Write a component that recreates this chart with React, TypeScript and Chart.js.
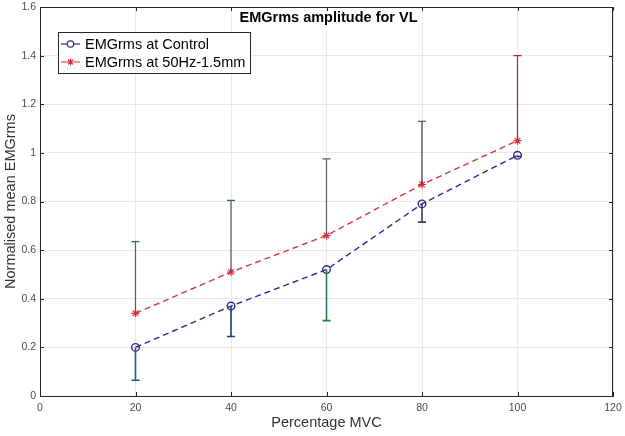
import React, { useEffect, useRef } from "react";
import { Chart, registerables } from "chart.js";

Chart.register(...registerables);

const mvc = [20, 40, 60, 80, 100];
const controlMean = [0.2, 0.37, 0.52, 0.79, 0.99];
const controlLower = [0.065, 0.245, 0.31, 0.715, 0.985];
const stimMean = [0.34, 0.51, 0.66, 0.87, 1.05];
const stimUpper = [0.635, 0.805, 0.975, 1.13, 1.4];
const controlBarColors = ["#1d5a7c", "#1f3a7a", "#2e7a4c", "#4a3a52", "#2a2a7a"];
const stimBarColors = ["#3c6a52", "#40604e", "#50665a", "#4a3838", "#a42626"];
const xTicks = [0, 20, 40, 60, 80, 100, 120];
const yTicks = [0, 0.2, 0.4, 0.6, 0.8, 1, 1.2, 1.4, 1.6];
const titleText = "EMGrms amplitude for VL";
const xTitle = "Percentage MVC";
const yTitle = "Normalised mean EMGrms";
const legendLabels = ["EMGrms at Control", "EMGrms at 50Hz-1.5mm"];

const BLUE = "#2b2b8c";
const RED = "#e0303c";
const FONT = "'Liberation Sans', Arial, sans-serif";

const overlay = {
  id: "overlay",
  afterDatasetsDraw(chart: any) {
    const { ctx, chartArea, scales } = chart;
    const xs = scales.x;
    const ys = scales.y;
    ctx.save();
    // error bars
    const drawBar = (x: number, y0: number, y1: number, color: string, w: number) => {
      const px = xs.getPixelForValue(x);
      const p0 = ys.getPixelForValue(y0);
      const p1 = ys.getPixelForValue(y1);
      ctx.strokeStyle = color;
      ctx.lineWidth = w;
      ctx.beginPath();
      ctx.moveTo(px, p0);
      ctx.lineTo(px, p1);
      ctx.moveTo(px - 4, p1);
      ctx.lineTo(px + 4, p1);
      ctx.stroke();
    };
    mvc.forEach((x, i) => {
      drawBar(x, controlMean[i], controlLower[i], controlBarColors[i], 1.6);
      drawBar(x, stimMean[i], stimUpper[i], stimBarColors[i], 1.2);
    });
    // box
    ctx.strokeStyle = "#262626";
    ctx.lineWidth = 1;
    ctx.strokeRect(chartArea.left + 0.5, chartArea.top + 0.5, chartArea.right - chartArea.left - 1, chartArea.bottom - chartArea.top);
    // inward ticks
    ctx.beginPath();
    xTicks.forEach((t) => {
      const px = Math.round(xs.getPixelForValue(t)) + 0.5;
      ctx.moveTo(px, chartArea.bottom);
      ctx.lineTo(px, chartArea.bottom - 4);
      ctx.moveTo(px, chartArea.top);
      ctx.lineTo(px, chartArea.top + 4);
    });
    yTicks.forEach((t) => {
      const py = Math.round(ys.getPixelForValue(t)) + 0.5;
      ctx.moveTo(chartArea.left, py);
      ctx.lineTo(chartArea.left + 4, py);
      ctx.moveTo(chartArea.right, py);
      ctx.lineTo(chartArea.right - 4, py);
    });
    ctx.stroke();
    // title
    ctx.fillStyle = "#000";
    ctx.font = `bold 14.5px ${FONT}`;
    ctx.textAlign = "center";
    ctx.textBaseline = "middle";
    ctx.fillText(titleText, (chartArea.left + chartArea.right) / 2 + 2, 18);
    // legend
    const lx = 58, ly = 32, lw = 192, lh = 41;
    ctx.fillStyle = "#fff";
    ctx.fillRect(lx, ly, lw, lh);
    ctx.strokeStyle = "#262626";
    ctx.lineWidth = 1;
    ctx.strokeRect(lx + 0.5, ly + 0.5, lw, lh);
    ctx.font = `14.5px ${FONT}`;
    ctx.textAlign = "left";
    ctx.fillStyle = "#000";
    const rows = [ly + 12, ly + 30];
    // row 1
    ctx.strokeStyle = BLUE;
    ctx.lineWidth = 1.2;
    ctx.beginPath();
    ctx.moveTo(lx + 3, rows[0]);
    ctx.lineTo(lx + 22, rows[0]);
    ctx.stroke();
    ctx.fillStyle = "#fff";
    ctx.beginPath();
    ctx.arc(lx + 12.5, rows[0], 3.2, 0, Math.PI * 2);
    ctx.fill();
    ctx.stroke();
    ctx.fillStyle = "#000";
    ctx.fillText(legendLabels[0], lx + 27, rows[0] + 1);
    // row 2
    ctx.strokeStyle = RED;
    ctx.beginPath();
    ctx.moveTo(lx + 3, rows[1]);
    ctx.lineTo(lx + 22, rows[1]);
    const cx = lx + 12.5, cy = rows[1], r = 3.5;
    ctx.moveTo(cx - r, cy); ctx.lineTo(cx + r, cy);
    ctx.moveTo(cx, cy - r); ctx.lineTo(cx, cy + r);
    ctx.moveTo(cx - r * 0.7, cy - r * 0.7); ctx.lineTo(cx + r * 0.7, cy + r * 0.7);
    ctx.moveTo(cx - r * 0.7, cy + r * 0.7); ctx.lineTo(cx + r * 0.7, cy - r * 0.7);
    ctx.stroke();
    ctx.fillStyle = "#000";
    ctx.fillText(legendLabels[1], lx + 27, rows[1] + 1);
    ctx.restore();
  },
};

export default function App() {
  const ref = useRef<HTMLCanvasElement>(null);
  useEffect(() => {
    const chart = new Chart(ref.current!, {
      type: "line",
      data: {
        datasets: [
          {
            label: legendLabels[0],
            data: mvc.map((x, i) => ({ x, y: controlMean[i] })),
            borderColor: BLUE,
            backgroundColor: "#fff",
            borderWidth: 1.4,
            borderDash: [6, 4],
            pointStyle: "circle",
            pointRadius: 3.8,
            pointBorderColor: BLUE,
            pointBorderWidth: 1.4,
            pointBackgroundColor: "rgba(255,255,255,0)",
          },
          {
            label: legendLabels[1],
            data: mvc.map((x, i) => ({ x, y: stimMean[i] })),
            borderColor: RED,
            backgroundColor: RED,
            borderWidth: 1.4,
            borderDash: [6, 4],
            pointStyle: "star",
            pointRadius: 4,
            pointBorderColor: RED,
            pointBorderWidth: 1.2,
          },
        ],
      },
      options: {
        animation: false,
        responsive: false,
        layout: { padding: { top: 7, right: 12, left: 0, bottom: 0 } },
        plugins: { legend: { display: false }, tooltip: { enabled: false }, title: { display: false } },
        scales: {
          x: {
            type: "linear",
            min: 0,
            max: 120,
            afterBuildTicks(scale: any) { scale.ticks = xTicks.map((v) => ({ value: v })); },
            ticks: { color: "#4d4d4d", font: { family: FONT, size: 10.5 }, padding: 6 },
            grid: { color: "#e8e8e8", drawTicks: false },
            border: { color: "#262626" },
            title: { display: true, text: xTitle, color: "#333", font: { family: FONT, size: 14.5 }, padding: { top: 0 } },
            afterFit(scale: any) { scale.height = 40; scale.paddingLeft = 0; scale.paddingRight = 0; },
          },
          y: {
            min: 0,
            max: 1.6,
            afterBuildTicks(scale: any) { scale.ticks = yTicks.map((v) => ({ value: v })); },
            ticks: {
              color: "#4d4d4d",
              font: { family: FONT, size: 10.5 },
              padding: 4,
              callback: (v: any) => String(Math.round(Number(v) * 10) / 10),
            },
            grid: { color: "#e8e8e8", drawTicks: false },
            border: { color: "#262626" },
            title: { display: true, text: yTitle, color: "#333", font: { family: FONT, size: 14.5 }, padding: { bottom: 0, top: 2 } },
            afterFit(scale: any) { scale.width = 40; scale.paddingTop = 0; scale.paddingBottom = 0; },
          },
        },
      },
      plugins: [overlay],
    } as any);
    return () => chart.destroy();
  }, []);
  return (
    <div style={{ position: "fixed", left: 0, top: 0, width: 625, height: 436, background: "#fff" }}>
      <canvas ref={ref} width={625} height={436} />
    </div>
  );
}
